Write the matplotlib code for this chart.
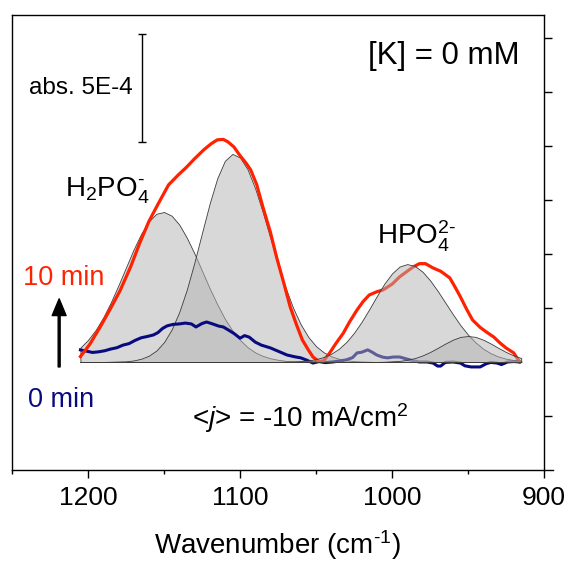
import numpy as np
import matplotlib
matplotlib.use("Agg")
import matplotlib.pyplot as plt
from matplotlib.ticker import FixedLocator

plt.rcParams["font.family"] = ["Liberation Sans", "DejaVu Sans"]
plt.rcParams["mathtext.fontset"] = "custom"
plt.rcParams["mathtext.rm"] = "Liberation Sans"
plt.rcParams["mathtext.it"] = "Liberation Sans:italic"
plt.rcParams["mathtext.bf"] = "Liberation Sans:bold"

# absorbance in units of 1E-4 (scale bar = 5E-4)
# fitted components sampled on a 5 cm-1 grid, 1205 -> 915
WN_FIT = np.arange(1205, 910, -5)
FIT_H2PO4_A = [0.67, 1.02, 1.48, 2.06, 2.76, 3.55, 4.38, 5.21, 5.94, 6.51, 6.86, 6.94,
               6.77, 6.36, 5.75, 5.02, 4.22, 3.41, 2.67, 2.00, 1.45, 1.02, 0.68, 0.44,
               0.28, 0.17, 0.10, 0.05, 0.03, 0.02, 0.01, 0.0] + [0.0] * 27
FIT_H2PO4_B = [0.0, 0.0, 0.0, 0.0, 0.01, 0.02, 0.03, 0.07, 0.15, 0.29, 0.53, 0.92,
               1.50, 2.31, 3.35, 4.61, 5.98, 7.33, 8.50, 9.31, 9.63, 9.46, 8.91, 8.02,
               6.92, 5.72, 4.52, 3.43, 2.49, 1.73, 1.15, 0.73, 0.45, 0.26, 0.15, 0.08,
               0.04, 0.02, 0.01] + [0.0] * 20
FIT_HPO4_A = [0.0] * 27 + [0.01, 0.02, 0.04, 0.07, 0.13, 0.23, 0.38, 0.61, 0.93, 1.35,
                           1.86, 2.44, 3.05, 3.63, 4.10, 4.42, 4.53, 4.44, 4.18, 3.78,
                           3.29, 2.75, 2.21, 1.70, 1.26, 0.90, 0.61, 0.40, 0.25, 0.15,
                           0.09, 0.05]
FIT_HPO4_B = [0.0] * 40 + [0.01, 0.03, 0.05, 0.10, 0.18, 0.30, 0.46, 0.65, 0.85, 1.03,
                           1.16, 1.20, 1.16, 1.03, 0.85, 0.65, 0.46, 0.30, 0.18]

# 10 min spectrum
RED_WN = [1205, 1199, 1192, 1185, 1179, 1172, 1166, 1160, 1154, 1147, 1140, 1135, 1130,
          1124, 1119, 1115, 1111, 1108, 1104, 1100, 1096, 1093, 1089, 1085, 1080, 1076,
          1071, 1067, 1063, 1059, 1055, 1052, 1048, 1045, 1041, 1037, 1032, 1028, 1023,
          1019, 1015, 1010, 1006, 1000, 995, 990, 986, 982, 978, 973, 968, 962, 958, 955,
          951, 947, 942, 938, 933, 929, 925, 920, 916]
RED_ABS = [0.25, 0.8, 1.62, 2.5, 3.29, 4.4, 5.5, 6.5, 7.3, 8.2, 8.7, 9.03, 9.4, 9.81,
           10.1, 10.28, 10.3, 10.19, 9.95, 9.55, 9.2, 8.89, 8.2, 7.18, 6.0, 4.86, 3.6,
           2.55, 1.75, 1.02, 0.55, 0.23, 0.02, 0.05, 0.42, 0.85, 1.34, 1.85, 2.41, 2.8,
           3.10, 3.25, 3.33, 3.6, 3.94, 4.2, 4.40, 4.55, 4.55, 4.35, 4.2, 3.89, 3.4, 3.01,
           2.45, 1.94, 1.6, 1.39, 1.15, 0.88, 0.65, 0.42, 0.0]

# 0 min spectrum
NAVY_WN = [1205, 1201, 1197, 1193, 1189, 1185, 1181, 1177, 1173, 1169, 1165, 1161, 1157,
           1154, 1151, 1148, 1144, 1140, 1136, 1132, 1129, 1125, 1122, 1118, 1114, 1111,
           1107, 1104, 1100, 1097, 1094, 1090, 1086, 1080, 1075, 1069, 1064, 1060, 1056,
           1052, 1048, 1044, 1039, 1034, 1030, 1026, 1023, 1020, 1016, 1013, 1010, 1006,
           1003, 999, 995, 991, 988, 985, 982, 977, 973, 970, 968, 965, 960, 955, 952,
           948, 942, 938, 935, 931, 928, 924, 920, 916]
NAVY_ABS = [0.56, 0.50, 0.44, 0.47, 0.52, 0.60, 0.66, 0.78, 0.85, 1.00, 1.12, 1.18, 1.25,
            1.36, 1.55, 1.67, 1.74, 1.76, 1.80, 1.76, 1.62, 1.78, 1.85, 1.76, 1.66, 1.62,
            1.45, 1.32, 1.10, 1.22, 1.15, 0.92, 0.78, 0.65, 0.50, 0.32, 0.24, 0.19, 0.08,
            -0.05, 0.02, -0.03, 0.0, 0.05, 0.1, 0.2, 0.42, 0.45, 0.56, 0.45, 0.32, 0.22,
            0.19, 0.23, 0.23, 0.15, 0.09, 0.04, 0.0, 0.0, -0.05, -0.19, -0.19, -0.02, 0.0,
            -0.05, -0.18, -0.23, -0.23, -0.08, -0.02, -0.05, -0.12, 0.0, 0.02, 0.0]

X_MAJOR = [1200, 1100, 1000, 900]
X_MINOR = [1250, 1150, 1050, 950]
Y_TICKS = [-2.5, 0, 2.5, 5, 7.5, 10, 12.5, 15]

RED = "#ff2200"
NAVY = "#0a0a80"
FILL = (0.70, 0.70, 0.70, 0.5)
HY = "\u2010"  # short hyphen inside mathtext (plain "-" becomes a minus sign)

fig = plt.figure(figsize=(5.7, 5.63), dpi=100)
ax = fig.add_axes([0.0211, 0.1652, 0.9491, 0.8082])

# H2PO4- bands under the spectra, HPO4 2- bands over them (as in the original)
for comp, z in ((FIT_H2PO4_A, 1), (FIT_H2PO4_B, 1), (FIT_HPO4_A, 4), (FIT_HPO4_B, 4)):
    ax.fill_between(WN_FIT, 0, comp, facecolor=FILL, edgecolor="#3c3c3c", linewidth=0.6, zorder=z)

ax.plot(NAVY_WN, NAVY_ABS, color=NAVY, lw=2.2, zorder=3)
ax.plot(RED_WN, RED_ABS, color=RED, lw=2.3, zorder=3, solid_joinstyle="round")

# scale bar
ax.errorbar([1164.5], [12.7], yerr=[2.5], fmt="none", ecolor="black", elinewidth=1.0,
            capsize=3, capthick=1.0)
ax.text(1204.6, 12.7, "abs. 5E-4", fontsize=17.5, ha="center", va="center")

ax.text(915.8, 13.8, "[K] = 0 mM", fontsize=22.5, ha="right", va="baseline")
ax.text(1215.1, 7.65, r"H$_2$PO$_4^{%s}$" % HY, fontsize=20, ha="left", va="baseline")
ax.text(1009.9, 5.42, r"HPO$_4^{2%s}$" % HY, fontsize=20, ha="left", va="baseline")
ax.text(1242.8, 3.56, "10 min", fontsize=19.5, color=RED, ha="left", va="baseline")
ax.text(1239.5, -2.07, "0 min", fontsize=19.5, color=NAVY, ha="left", va="baseline")
ax.text(1131.6, -3.0, r"<$j$> = -10 mA/cm$^2$", fontsize=20, ha="left", va="baseline")
ax.annotate("", xy=(1219, 2.92), xytext=(1219, -0.23),
            arrowprops=dict(width=1.4, headwidth=10, headlength=12, shrink=0, color="black"))

ax.set_xlim(1250, 894.1)
ax.set_ylim(-5.0, 16.06)

ax.xaxis.set_major_locator(FixedLocator(X_MAJOR))
ax.xaxis.set_minor_locator(FixedLocator(X_MINOR))
ax.tick_params(axis="x", which="major", direction="out", length=5.5, width=1.0, labelsize=19, pad=6)
ax.tick_params(axis="x", which="minor", direction="out", length=3, width=1.0)

ax.yaxis.tick_right()
ax.yaxis.set_major_locator(FixedLocator(Y_TICKS))
ax.yaxis.set_minor_locator(FixedLocator([]))
ax.tick_params(axis="y", which="both", direction="out", length=6, width=1.0,
               left=False, labelleft=False, labelright=False)
ax.spines["right"].set_position(("data", 900))
ax.spines["top"].set_bounds(1250, 900)
for s in ax.spines.values():
    s.set_linewidth(1.0)

ax.set_xlabel("Wavenumber (cm$^{%s1}$)" % HY, fontsize=20)
ax.xaxis.set_label_coords(0.49, -0.127)

fig.savefig("out.png", dpi=100)
